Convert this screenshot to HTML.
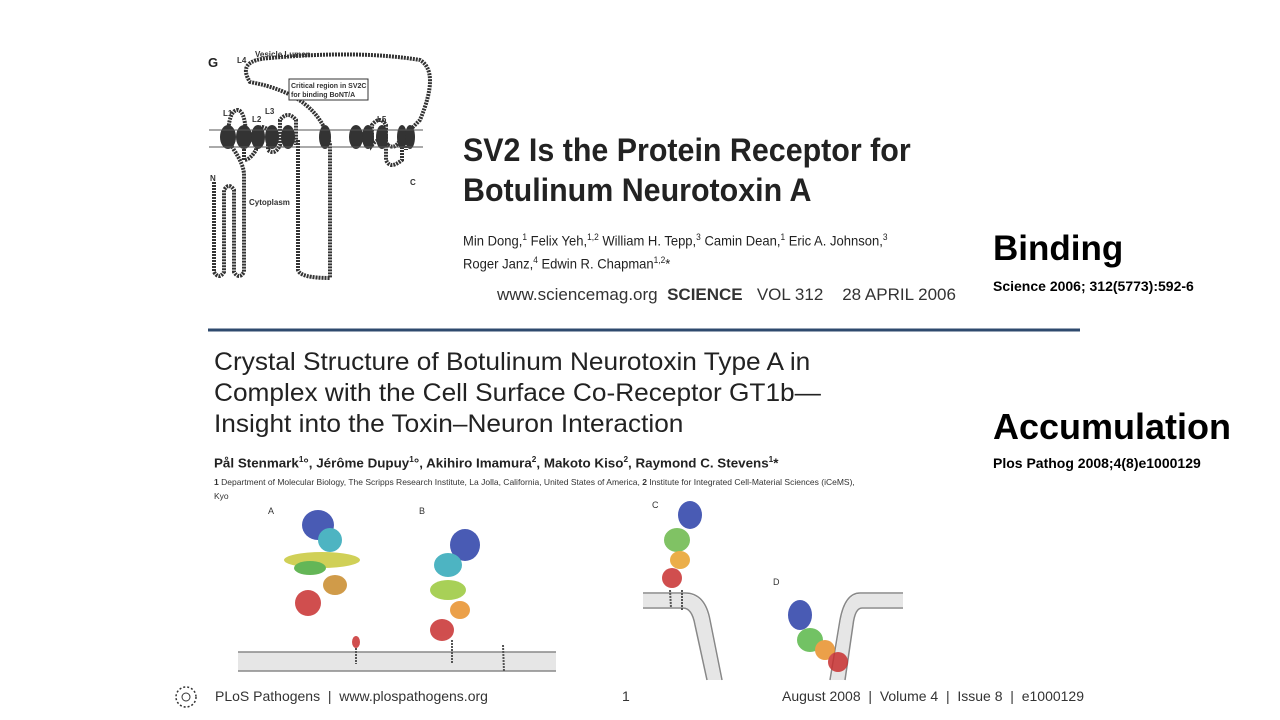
<!DOCTYPE html>
<html><head><meta charset="utf-8"><style>
body{margin:0;width:1280px;height:720px;background:#fff;position:relative;overflow:hidden;font-family:"Liberation Sans",sans-serif;color:#222}
.a{position:absolute;white-space:nowrap}
.sx{transform-origin:0 0}
</style></head><body>
<svg class="a" style="left:0;top:0" width="1280" height="720">
<g fill="none" stroke="#333" stroke-width="4" stroke-dasharray="2 1">
<path d="M214 182 V272 Q219 280 224 272 V190 Q229 182 234 190 V272 Q239 280 244 272 V175 Q244 165 234 150 L228 140 Q228 110 238 110 Q246 112 246 140 M244 140 V160 Q250 160 256 150 V130 Q262 124 268 130 V150 Q275 156 280 145 V120 Q288 110 296 120 V145 M298 140 V270 Q300 278 330 278 V145 Q320 95 250 82 Q236 60 270 58 Q360 50 420 60 Q440 72 420 120 L400 140 Q395 150 388 145 M388 145 Q380 135 372 145 V125 Q380 115 386 125 V160 Q390 170 402 160 V145 M406 140 V150"/>
</g>
<g fill="#333">
<ellipse cx="228" cy="137" rx="8" ry="12"/><ellipse cx="244" cy="137" rx="8" ry="12"/><ellipse cx="258" cy="137" rx="7" ry="12"/><ellipse cx="272" cy="137" rx="7" ry="12"/><ellipse cx="288" cy="137" rx="7" ry="12"/><ellipse cx="325" cy="137" rx="6" ry="12"/><ellipse cx="356" cy="137" rx="7" ry="12"/><ellipse cx="368" cy="137" rx="6" ry="12"/><ellipse cx="382" cy="137" rx="6" ry="12"/><ellipse cx="402" cy="137" rx="5" ry="12"/><ellipse cx="410" cy="137" rx="5" ry="12"/>
</g>
<line x1="209" y1="130" x2="423" y2="130" stroke="#555" stroke-width="1"/>
<line x1="209" y1="147" x2="423" y2="147" stroke="#555" stroke-width="1"/>
<rect x="289" y="79" width="79" height="21" fill="#fff" stroke="#333" stroke-width="1"/>
<text x="291" y="88" font-size="7" font-weight="bold" fill="#333">Critical region in SV2C</text>
<text x="291" y="97" font-size="7" font-weight="bold" fill="#333">for binding BoNT/A</text>
<g font-size="8" font-weight="bold" fill="#333">
<text x="255" y="57">Vesicle Lumen</text><text x="237" y="63">L4</text><text x="223" y="116">L1</text><text x="252" y="122">L2</text><text x="265" y="114">L3</text><text x="377" y="122">L5</text><text x="210" y="181">N</text><text x="410" y="185">C</text><text x="249" y="205">Cytoplasm</text>
</g>
<text x="208" y="67" font-size="13" font-weight="bold" fill="#222">G</text>
<line x1="208" y1="330" x2="1080" y2="330" stroke="#2f4a6e" stroke-width="3"/>
<rect x="238" y="652" width="318" height="19" fill="#e6e6e6"/>
<line x1="238" y1="652" x2="556" y2="652" stroke="#888" stroke-width="1.5"/><line x1="238" y1="671" x2="556" y2="671" stroke="#888" stroke-width="1.5"/>
<path d="M643 594 H684 Q704 594 709 620 L721 680 H707 L695 625 Q692 607 683 607 H643Z" fill="#e6e6e6"/>
<path d="M643 593 H685 Q705 593 710 620 L722 680 M643 608 H683 Q692 608 695 625 L707 680" fill="none" stroke="#888" stroke-width="1.5"/>
<path d="M903 594 H860 Q846 594 841 620 L831 680 H845 L853 625 Q855 607 862 607 H903Z" fill="#e6e6e6"/>
<path d="M903 593 H860 Q845 593 840 620 L830 680 M903 608 H862 Q855 608 853 625 L845 680" fill="none" stroke="#888" stroke-width="1.5"/>
<g opacity="0.85">
<ellipse cx="318" cy="525" rx="16" ry="15" fill="#2a3fa8"/><ellipse cx="330" cy="540" rx="12" ry="12" fill="#2fa8b8"/>
<ellipse cx="322" cy="560" rx="38" ry="8" fill="#c8c83a"/><ellipse cx="310" cy="568" rx="16" ry="7" fill="#4aaa3a"/>
<ellipse cx="335" cy="585" rx="12" ry="10" fill="#c88a2a"/><ellipse cx="308" cy="603" rx="13" ry="13" fill="#c83030"/>
<ellipse cx="356" cy="642" rx="4" ry="6" fill="#c83030"/>
<ellipse cx="465" cy="545" rx="15" ry="16" fill="#2a3fa8"/><ellipse cx="448" cy="565" rx="14" ry="12" fill="#2fa8b8"/>
<ellipse cx="448" cy="590" rx="18" ry="10" fill="#9ac83a"/><ellipse cx="460" cy="610" rx="10" ry="9" fill="#e8902a"/>
<ellipse cx="442" cy="630" rx="12" ry="11" fill="#c83030"/>
<ellipse cx="690" cy="515" rx="12" ry="14" fill="#2a3fa8"/><ellipse cx="677" cy="540" rx="13" ry="12" fill="#6ab84a"/>
<ellipse cx="680" cy="560" rx="10" ry="9" fill="#e8a02a"/><ellipse cx="672" cy="578" rx="10" ry="10" fill="#c83030"/>
<ellipse cx="800" cy="615" rx="12" ry="15" fill="#2a3fa8"/><ellipse cx="810" cy="640" rx="13" ry="12" fill="#5ab84a"/>
<ellipse cx="825" cy="650" rx="10" ry="10" fill="#e8902a"/><ellipse cx="838" cy="662" rx="10" ry="10" fill="#c83030"/>
</g>
<g stroke="#555" stroke-width="2" stroke-dasharray="2 1"><line x1="356" y1="648" x2="356" y2="664"/><line x1="452" y1="640" x2="452" y2="664"/><line x1="503" y1="645" x2="504" y2="672"/><line x1="670" y1="590" x2="671" y2="608"/><line x1="682" y1="590" x2="682" y2="610"/></g>
<g font-size="9" fill="#333"><text x="268" y="514">A</text><text x="419" y="514">B</text><text x="652" y="508">C</text><text x="773" y="585">D</text></g>
<circle cx="186" cy="697" r="10" fill="none" stroke="#333" stroke-width="1.5" stroke-dasharray="2 2"/>
<circle cx="186" cy="697" r="4" fill="none" stroke="#333" stroke-width="1"/>
</svg>

<div class="a sx" style="left:463px;top:130px;font-size:32px;font-weight:bold;color:#222;transform:scaleX(0.95);line-height:40px">SV2 Is the Protein Receptor for<br>Botulinum Neurotoxin A</div>
<div class="a sx" style="left:463px;top:228px;font-size:14px;line-height:19px;transform:scaleX(0.93)">Min Dong,<sup style="font-size:9px">1</sup> Felix Yeh,<sup style="font-size:9px">1,2</sup> William H. Tepp,<sup style="font-size:9px">3</sup> Camin Dean,<sup style="font-size:9px">1</sup> Eric A. Johnson,<sup style="font-size:9px">3</sup><br>Roger Janz,<sup style="font-size:9px">4</sup> Edwin R. Chapman<sup style="font-size:9px">1,2</sup>*</div>
<div class="a" style="left:497px;top:285px;font-size:17px;color:#333">www.sciencemag.org&nbsp; <b>SCIENCE</b>&nbsp;&nbsp; VOL 312&nbsp;&nbsp;&nbsp; 28 APRIL 2006</div>

<div class="a" style="left:993px;top:229px;font-size:35px;font-weight:bold;color:#000">Binding</div>
<div class="a" style="left:993px;top:278px;font-size:14px;font-weight:bold;color:#000">Science 2006; 312(5773):592-6</div>
<div class="a" style="left:993px;top:406px;font-size:36px;font-weight:bold;color:#000">Accumulation</div>
<div class="a" style="left:993px;top:455px;font-size:14px;font-weight:bold;color:#000">Plos Pathog 2008;4(8)e1000129</div>

<div class="a sx" style="left:214px;top:347px;font-size:25px;line-height:31px;color:#222;transform:scaleX(1.05)">Crystal Structure of Botulinum Neurotoxin Type A in<br>Complex with the Cell Surface Co-Receptor GT1b—<br>Insight into the Toxin–Neuron Interaction</div>
<div class="a sx" style="left:214px;top:455px;font-size:13px;font-weight:bold;color:#222;transform:scaleX(1.03)">Pål Stenmark<sup style="font-size:8px">1</sup>°, Jérôme Dupuy<sup style="font-size:8px">1</sup>°, Akihiro Imamura<sup style="font-size:8px">2</sup>, Makoto Kiso<sup style="font-size:8px">2</sup>, Raymond C. Stevens<sup style="font-size:8px">1</sup>*</div>
<div class="a" style="left:214px;top:477px;font-size:8.5px;color:#333"><b>1</b> Department of Molecular Biology, The Scripps Research Institute, La Jolla, California, United States of America, <b>2</b> Institute for Integrated Cell-Material Sciences (iCeMS),</div>
<div class="a" style="left:214px;top:491px;font-size:8.5px;color:#333">Kyo</div>

<div class="a" style="left:215px;top:688px;font-size:14px;color:#333">PLoS Pathogens&nbsp; |&nbsp; www.plospathogens.org</div>
<div class="a" style="left:622px;top:688px;font-size:14px;color:#333">1</div>
<div class="a" style="left:782px;top:688px;font-size:14px;color:#333">August 2008&nbsp; |&nbsp; Volume 4&nbsp; |&nbsp; Issue 8&nbsp; |&nbsp; e1000129</div>
</body></html>
